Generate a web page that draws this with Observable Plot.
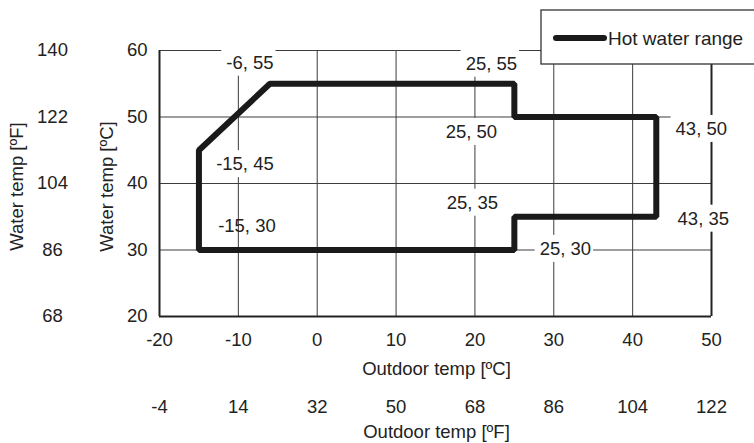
<!DOCTYPE html>
<html><head><meta charset="utf-8">
<script src="https://cdn.jsdelivr.net/npm/d3@7"></script>
<script src="https://cdn.jsdelivr.net/npm/@observablehq/plot@0.6"></script>
<style>
body{margin:0;background:#fff;}
#chart svg{display:block;}
</style></head><body><div id="chart"></div>
<script>
// ---- data ----
const outdoorC = [-15, -15, -6, 25, 25, 43, 43, 25, 25];
const waterC   = [ 30,  45, 55, 55, 50, 50, 35, 35, 30];
const seriesName = "Hot water range";
const xTicksC = [-20, -10, 0, 10, 20, 30, 40, 50];
const xTicksF = ["-4", "14", "32", "50", "68", "86", "104", "122"];
const yTicksC = [20, 30, 40, 50, 60];
const yTicksF = ["68", "86", "104", "122", "140"];
const xTitleC = "Outdoor temp [ºC]";
const xTitleF = "Outdoor temp [ºF]";
const yTitleC = "Water temp [ºC]";
const yTitleF = "Water temp [ºF]";

// ---- label placement (pixel offsets from each vertex) ----
const labelDx = [48, 46, -20, -23, -43, 45, 47, -42, 51];
const labelDy = [-24, 14, -21, -20, 15, 12, 2, -14, -1];
const labelBoxed = [false, true, true, true, true, true, true, true, true];

const ink = "#222";
const gridColor = "#3c3c3c";
const fs = "18.5px";

const pts = outdoorC.map((x, i) => ({x, y: waterC[i], text: `${x}, ${waterC[i]}`}));

const labelMarks = pts.map((d, i) => Plot.text([d], {
  x: "x", y: "y", text: "text", dx: labelDx[i], dy: labelDy[i],
  fill: ink, textAnchor: "middle", lineAnchor: "middle"
}));

const plot = Plot.plot({
  width: 754, height: 443,
  marginLeft: 159, marginRight: 43, marginTop: 50, marginBottom: 127,
  x: {domain: [-20, 50]},
  y: {domain: [20, 60]},
  style: {fontFamily: "'Liberation Sans', Arial, sans-serif", fontSize: fs, color: ink, background: "white"},
  marks: [
    Plot.gridX(xTicksC.slice(1, -1), {stroke: gridColor, strokeOpacity: 1, strokeWidth: 1}),
    Plot.gridY(yTicksC.slice(1), {stroke: gridColor, strokeOpacity: 1, strokeWidth: 1}),
    Plot.ruleX([xTicksC[0], xTicksC[xTicksC.length - 1]], {stroke: ink, strokeWidth: 2}),
    Plot.ruleY([yTicksC[0]], {stroke: ink, strokeWidth: 2}),
    Plot.axisX(xTicksC, {tickSize: 0, tickPadding: 16, label: null, fill: ink, tickFormat: d => String(d)}),
    Plot.axisY(yTicksC, {tickSize: 0, tickPadding: 12, label: null, fill: ink, tickFormat: d => String(d)}),
    Plot.text(xTicksC, {x: d => d, text: (d, i) => xTicksF[i], frameAnchor: "bottom", dy: 91, textAnchor: "middle", lineAnchor: "middle", fill: ink}),
    Plot.text(yTicksC, {y: d => d, text: (d, i) => yTicksF[i], frameAnchor: "left", dx: -107, textAnchor: "middle", lineAnchor: "middle", fill: ink}),
    Plot.text([xTitleC], {text: d => d, frameAnchor: "bottom", dx: 1, dy: 53, textAnchor: "middle", lineAnchor: "middle", fill: ink}),
    Plot.text([xTitleF], {text: d => d, frameAnchor: "bottom", dx: 1, dy: 116, textAnchor: "middle", lineAnchor: "middle", fill: ink}),
    Plot.text([yTitleC], {text: d => d, frameAnchor: "left", dx: -52, dy: 3, rotate: -90, textAnchor: "middle", lineAnchor: "middle", fill: ink}),
    Plot.text([yTitleF], {text: d => d, frameAnchor: "left", dx: -142, dy: 3, rotate: -90, textAnchor: "middle", lineAnchor: "middle", fill: ink}),
    ...labelMarks,
    Plot.line(pts, {x: "x", y: "y", curve: "linear-closed", stroke: "#1a1a1a", strokeWidth: 6, strokeLinejoin: "miter"})
  ]
});

document.getElementById("chart").appendChild(plot);

// white boxes behind the vertex labels
const boxedTexts = new Set(pts.filter((d, i) => labelBoxed[i]).map(d => d.text));
d3.select(plot).selectAll("text").filter(function () { return boxedTexts.has(this.textContent); })
  .each(function () {
    const b = this.getBBox();
    const r = document.createElementNS("http://www.w3.org/2000/svg", "rect");
    r.setAttribute("x", b.x - 5);
    r.setAttribute("y", b.y - 3);
    r.setAttribute("width", b.width + 7);
    r.setAttribute("height", b.height + 6);
    r.setAttribute("fill", "white");
    const t = this.getAttribute("transform");
    if (t) r.setAttribute("transform", t);
    this.parentNode.insertBefore(r, this);
  });

// legend box (top right, runs off the edge like the reference)
const lg = d3.select(plot).append("g").attr("text-anchor", "start");
lg.append("rect").attr("x", 541).attr("y", 10).attr("width", 260).attr("height", 54)
  .attr("fill", "white").attr("stroke", "#333").attr("stroke-width", 1.3);
lg.append("line").attr("x1", 556).attr("x2", 604).attr("y1", 38).attr("y2", 38)
  .attr("stroke", "#1a1a1a").attr("stroke-width", 6).attr("stroke-linecap", "round");
lg.append("text").attr("x", 608).attr("y", 38).attr("dy", "0.35em").attr("text-anchor", "start")
  .attr("font-size", 19).attr("fill", ink).text(seriesName);
</script>
</body></html>
